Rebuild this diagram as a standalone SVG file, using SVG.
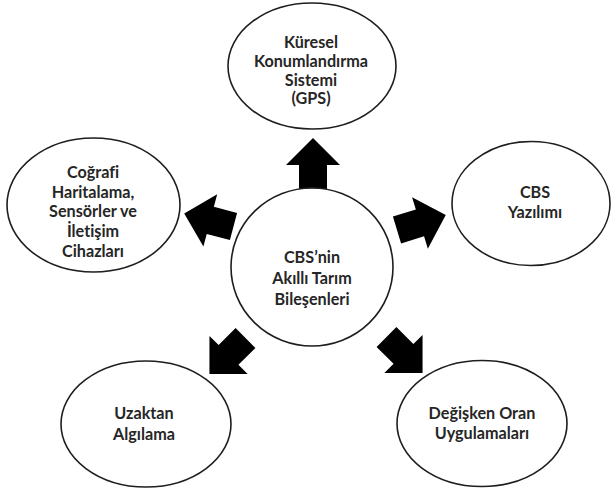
<svg xmlns="http://www.w3.org/2000/svg" width="614" height="492" viewBox="0 0 614 492">
  <defs>
    <style>
      .node ellipse { fill: #ffffff; stroke: #1e1e1e; stroke-width: 1.6; }
      .node text { font-family: Lato, "Liberation Sans", sans-serif; font-weight: bold; font-size: 16.2px; fill: #262626; text-anchor: middle; font-variant-ligatures: none; }
      .arrow { fill: #000000; }
    </style>
    <!-- block arrow pointing along +x, from shaft end (0,0) to tip (51,0) -->
    <polygon id="blockArrow" points="0,-14 24,-14 24,-27 51,0 24,27 24,14 0,14"/>
  </defs>
  <rect width="614" height="492" fill="#ffffff"/>

  <g id="connectors">
    <use href="#blockArrow" class="arrow" transform="translate(313,189) rotate(-90)"/>
    <use href="#blockArrow" class="arrow" transform="translate(233.5,226.5) rotate(194.8)"/>
    <use href="#blockArrow" class="arrow" transform="translate(397,230) rotate(-17)"/>
    <use href="#blockArrow" class="arrow" transform="translate(245.5,338) rotate(135)"/>
    <use href="#blockArrow" class="arrow" transform="translate(386.5,337) rotate(45)"/>
  </g>

  <g id="center" class="node">
    <ellipse cx="312" cy="267" rx="81" ry="79"/>
    <text x="312" y="263">CBS’nin</text>
    <text x="312" y="284">Akıllı Tarım</text>
    <text x="312" y="305">Bileşenleri</text>
  </g>

  <g id="gps" class="node">
    <ellipse cx="312" cy="66" rx="84" ry="63"/>
    <text x="311" y="48">Küresel</text>
    <text x="311" y="67">Konumlandırma</text>
    <text x="311" y="86">Sistemi</text>
    <text x="311" y="104">(GPS)</text>
  </g>

  <g id="mapping" class="node">
    <ellipse cx="93.5" cy="205" rx="86.5" ry="67"/>
    <text x="93" y="178">Coğrafi</text>
    <text x="93" y="198">Haritalama,</text>
    <text x="93" y="217">Sensörler ve</text>
    <text x="93" y="237">İletişim</text>
    <text x="93" y="257">Cihazları</text>
  </g>

  <g id="software" class="node">
    <ellipse cx="531" cy="203.5" rx="79" ry="62"/>
    <text x="535" y="198">CBS</text>
    <text x="535" y="218">Yazılımı</text>
  </g>

  <g id="remote" class="node">
    <ellipse cx="146" cy="424" rx="85" ry="63"/>
    <text x="144" y="419">Uzaktan</text>
    <text x="144" y="440">Algılama</text>
  </g>

  <g id="variable" class="node">
    <ellipse cx="482" cy="423.5" rx="85" ry="63"/>
    <text x="482" y="419">Değişken Oran</text>
    <text x="482" y="439">Uygulamaları</text>
  </g>
</svg>
